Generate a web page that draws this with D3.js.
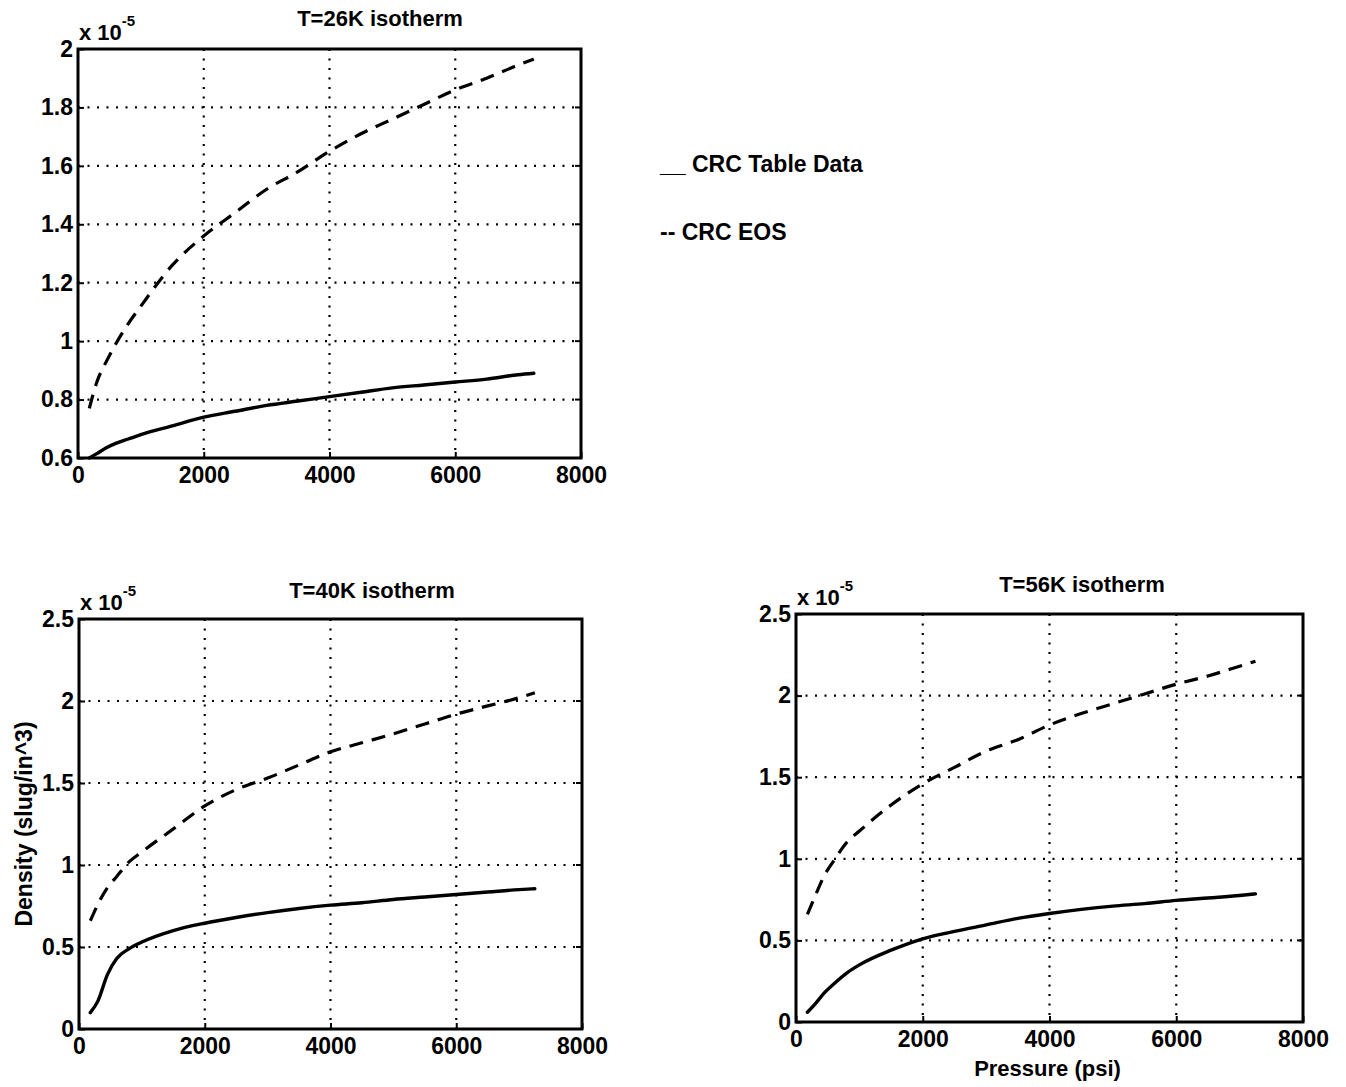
<!DOCTYPE html>
<html>
<head>
<meta charset="utf-8">
<script src="https://cdn.jsdelivr.net/npm/d3@7"></script>
<style>
  html, body { margin: 0; padding: 0; background: #fff; }
  svg { display: block; }
  text { font-family: "Liberation Sans", Arial, Helvetica, sans-serif; font-weight: bold; fill: #000; }
</style>
</head>
<body>
<svg id="chart" width="1346" height="1087"></svg>
<script>
// ---------------- DATA ----------------
// Pressure (psi) sample points shared by all curves
const pressure = [180, 300, 450, 600, 800, 1000, 1500, 2000, 2500, 3000, 3500, 4000, 4500, 5000, 5500, 6000, 6500, 7000, 7250];

// Density values, in units of 1e-5 slug/in^3
const table26 = [0.60, 0.615, 0.635, 0.65, 0.665, 0.68, 0.71, 0.74, 0.76, 0.78, 0.795, 0.81, 0.825, 0.84, 0.85, 0.86, 0.87, 0.885, 0.89];
const eos26   = [0.77, 0.86, 0.93, 0.99, 1.06, 1.12, 1.26, 1.36, 1.44, 1.52, 1.58, 1.65, 1.71, 1.76, 1.81, 1.86, 1.90, 1.945, 1.965];

const table40 = [0.10, 0.17, 0.33, 0.43, 0.49, 0.53, 0.60, 0.645, 0.68, 0.71, 0.735, 0.755, 0.77, 0.79, 0.805, 0.82, 0.835, 0.85, 0.855];
const eos40   = [0.66, 0.76, 0.86, 0.93, 1.02, 1.08, 1.22, 1.36, 1.46, 1.53, 1.61, 1.69, 1.745, 1.80, 1.86, 1.92, 1.97, 2.02, 2.05];

const table56 = [0.06, 0.11, 0.18, 0.235, 0.30, 0.35, 0.44, 0.51, 0.555, 0.595, 0.635, 0.665, 0.69, 0.71, 0.725, 0.745, 0.76, 0.775, 0.785];
const eos56   = [0.66, 0.77, 0.90, 0.99, 1.10, 1.17, 1.33, 1.46, 1.56, 1.66, 1.73, 1.82, 1.89, 1.95, 2.01, 2.07, 2.12, 2.18, 2.21];

const xTicks = [0, 2000, 4000, 6000, 8000];
const yTicks26 = [0.6, 0.8, 1, 1.2, 1.4, 1.6, 1.8, 2];
const yTicks40 = [0, 0.5, 1, 1.5, 2, 2.5];
const yTicks56 = [0, 0.5, 1, 1.5, 2, 2.5];

const titles = ["T=26K isotherm", "T=40K isotherm", "T=56K isotherm"];
const legendLabels = ["__ CRC Table Data", "-- CRC EOS"];
const yAxisTitle = "Density (slug/in^3)";
const xAxisTitle = "Pressure (psi)";
const multiplierBase = "x 10";
const multiplierExp = "-5";

// ---------------- DRAWING ----------------
const svg = d3.select("#chart");

const panels = [
  { box: {x0: 78, x1: 581, y0: 49, y1: 458}, yDomain: [0.6, 2], yTicks: yTicks26, table: table26, eos: eos26, title: titles[0], titleX: 380, titleY: 26, yLabel: false, xLabel: false },
  { box: {x0: 79, x1: 582, y0: 619, y1: 1029}, yDomain: [0, 2.5], yTicks: yTicks40, table: table40, eos: eos40, title: titles[1], titleX: 372, titleY: 598, yLabel: true, xLabel: false },
  { box: {x0: 796, x1: 1303, y0: 614, y1: 1022}, yDomain: [0, 2.5], yTicks: yTicks56, table: table56, eos: eos56, title: titles[2], titleX: 1082, titleY: 592, yLabel: false, xLabel: true }
];

panels.forEach(p => {
  const b = p.box;
  const x = d3.scaleLinear().domain([0, 8000]).range([b.x0, b.x1]);
  const y = d3.scaleLinear().domain(p.yDomain).range([b.y1, b.y0]);
  const g = svg.append("g");

  // grid (dotted)
  g.append("g").selectAll("line")
    .data(xTicks.slice(1, -1)).join("line")
    .attr("x1", d => x(d)).attr("x2", d => x(d))
    .attr("y1", b.y0).attr("y2", b.y1)
    .attr("stroke", "#000").attr("stroke-width", 2.2)
    .attr("stroke-dasharray", "2,7.5");
  g.append("g").selectAll("line")
    .data(p.yTicks.slice(1, -1)).join("line")
    .attr("x1", b.x0).attr("x2", b.x1)
    .attr("y1", d => y(d)).attr("y2", d => y(d))
    .attr("stroke", "#000").attr("stroke-width", 2.2)
    .attr("stroke-dasharray", "2,7.5");

  // axes
  const xAxis = d3.axisBottom(x).tickValues(xTicks).tickFormat(d => String(d)).tickSize(-6).tickSizeOuter(0).tickPadding(9);
  const ax = g.append("g").attr("transform", `translate(0,${b.y1})`).call(xAxis);
  ax.select(".domain").remove();
  ax.selectAll("line").attr("stroke", "#000").attr("stroke-width", 2);
  ax.selectAll("text").attr("font-size", 23).attr("font-family", "Liberation Sans, Arial, sans-serif").attr("font-weight", "bold");

  const yAxis = d3.axisLeft(y).tickValues(p.yTicks).tickFormat(d => String(d)).tickSize(-6).tickSizeOuter(0).tickPadding(5);
  const ay = g.append("g").attr("transform", `translate(${b.x0},0)`).call(yAxis);
  ay.select(".domain").remove();
  ay.selectAll("line").attr("stroke", "#000").attr("stroke-width", 2);
  ay.selectAll("text").attr("font-size", 23).attr("font-family", "Liberation Sans, Arial, sans-serif").attr("font-weight", "bold");

  // right-side tick marks
  g.append("g").selectAll("line").data(p.yTicks).join("line")
    .attr("x1", b.x1 - 6).attr("x2", b.x1)
    .attr("y1", d => y(d)).attr("y2", d => y(d))
    .attr("stroke", "#000").attr("stroke-width", 2);

  // frame
  g.append("rect")
    .attr("x", b.x0).attr("y", b.y0)
    .attr("width", b.x1 - b.x0).attr("height", b.y1 - b.y0)
    .attr("fill", "none").attr("stroke", "#000").attr("stroke-width", 3);

  // curves
  const line = d3.line().x(d => x(d[0])).y(d => y(d[1])).curve(d3.curveMonotoneX);
  g.append("path")
    .datum(pressure.map((P, i) => [P, p.table[i]]))
    .attr("d", line).attr("fill", "none")
    .attr("stroke", "#000").attr("stroke-width", 3.4).attr("stroke-linecap", "round");
  g.append("path")
    .datum(pressure.map((P, i) => [P, p.eos[i]]))
    .attr("d", line).attr("fill", "none")
    .attr("stroke", "#000").attr("stroke-width", 3.2).attr("stroke-dasharray", "14,9");

  // title
  g.append("text").attr("x", p.titleX).attr("y", p.titleY)
    .attr("text-anchor", "middle").attr("font-size", 22).text(p.title);

  // multiplier
  const m = g.append("text").attr("x", b.x0 + 1).attr("y", b.y0 - 9).attr("font-size", 22);
  m.append("tspan").text(multiplierBase);
  m.append("tspan").attr("dy", -14).attr("font-size", 15).text(multiplierExp);

  if (p.yLabel) {
    g.append("text")
      .attr("transform", `translate(32,${(b.y0 + b.y1) / 2}) rotate(-90)`)
      .attr("text-anchor", "middle").attr("font-size", 23).text(yAxisTitle);
  }
  if (p.xLabel) {
    g.append("text").attr("x", (b.x0 + b.x1) / 2 - 2).attr("y", 1076)
      .attr("text-anchor", "middle").attr("font-size", 22).text(xAxisTitle);
  }
});

// legend text
svg.append("text").attr("x", 660).attr("y", 172).attr("font-size", 23).text(legendLabels[0]);
svg.append("text").attr("x", 660).attr("y", 240).attr("font-size", 23).text(legendLabels[1]);
</script>
</body>
</html>
